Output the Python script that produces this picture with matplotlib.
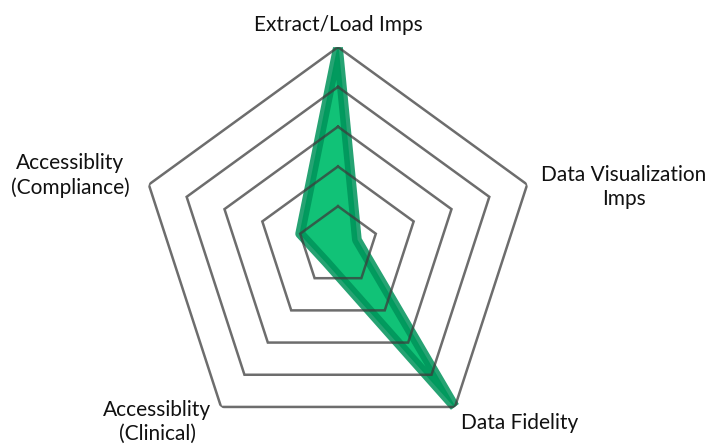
import numpy as np
import matplotlib
matplotlib.use("Agg")
import matplotlib.pyplot as plt

plt.rcParams["font.family"] = ["Lato", "DejaVu Sans"]

categories = [
    "Extract/Load Imps",
    "Data Visualization\nImps",
    "Data Fidelity",
    "Accessiblity\n(Clinical)",
    "Accessiblity\n(Compliance)",
]
scores = [5, 0.5, 5, 0.5, 1]
ring_levels = [1, 2, 3, 4, 5]

# label placement (angle in degrees clockwise from top, radius in data units)
label_angles = [0, 78.3, 134.2, 225.8, 284.8]
label_radii = [5.55, 7.34, 6.38, 6.34, 6.97]

fill_color = "#04bf70"
edge_color = "#00935a"
grid_color = "#3c3c3c"

n = len(categories)
angles = np.linspace(0, 2 * np.pi, n, endpoint=False)
closed_angles = np.append(angles, angles[0])

fig = plt.figure(figsize=(7.12, 4.46), dpi=100)
ax = fig.add_axes([0.1952, 0.0024, 0.559, 0.892], projection="polar")
ax.set_theta_offset(np.pi / 2)
ax.set_theta_direction(-1)
ax.set_ylim(0, 5)

values = np.append(scores, scores[0])
ax.fill(closed_angles, values, color=fill_color, alpha=0.95, zorder=2)
ax.plot(closed_angles, values, color=edge_color, linewidth=7, alpha=0.85,
        solid_joinstyle="round", zorder=3)

for level in ring_levels:
    ax.plot(closed_angles, [level] * (n + 1), color=grid_color, linewidth=1.8,
            alpha=0.75, solid_joinstyle="miter", zorder=4)

ax.set_xticks([])
ax.set_yticks([])
ax.grid(False)
ax.spines["polar"].set_visible(False)
ax.patch.set_visible(False)

for label, ang, rad in zip(categories, label_angles, label_radii):
    ax.text(np.deg2rad(ang), rad, label, ha="center", va="center",
            fontsize=15, color="#111111", linespacing=1.25, clip_on=False)

fig.savefig("out.png", dpi=100)
